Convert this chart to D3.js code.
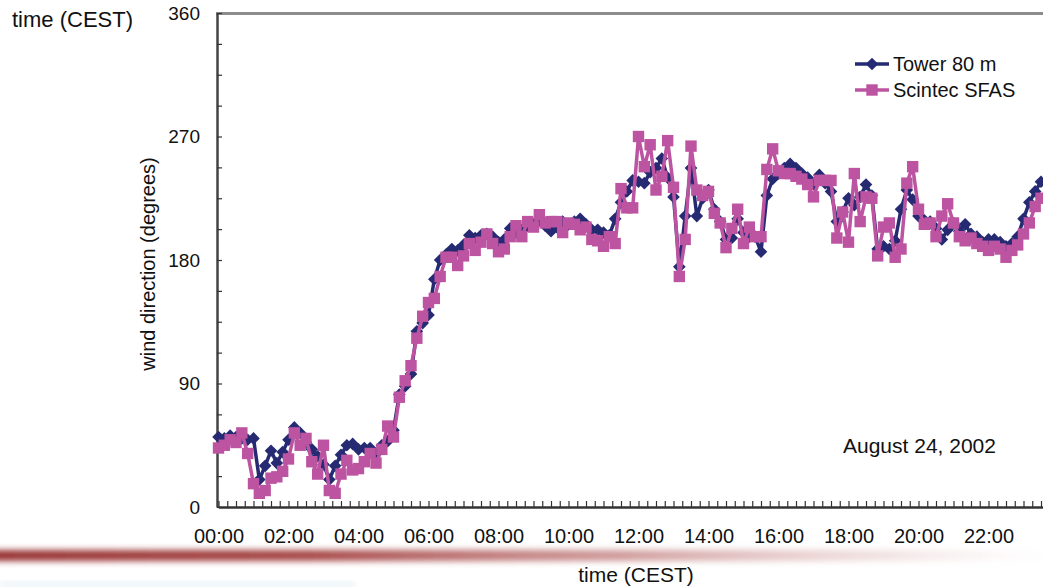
<!DOCTYPE html>
<html lang="en">
<head>
    <meta charset="UTF-8">
    <title>wind direction</title>
    <script src="https://cdn.jsdelivr.net/npm/d3@7"></script>
    <style>
        body{margin:0;background:#fff;}
        text{font-family:"Liberation Sans",Arial,sans-serif;fill:#111;}
    </style>
</head>
<body>
<svg width="1043" height="587"></svg>
</body>
<script>
// 10 minute values, 00:00 .. 23:30 (what is visible of the day)
var minutes = d3.range(0, 142 * 10, 10);

var tower = [
    51, 50, 52, 51, 50, 49, 50, 20, 30, 41,
    32, 40, 49, 58, 54, 47, 42, 37, 31, 20,
    30, 38, 45, 46, 42, 43, 43, 39, 45, 48,
    56, 82, 88, 97, 128, 134, 140, 166, 180, 184,
    188, 187, 191, 198, 196, 198, 199, 197, 193, 195,
    203, 200, 202, 205, 206, 209, 205, 201, 204, 208,
    206, 208, 210, 206, 202, 202, 200, 198, 210, 222,
    230, 238, 237, 236, 244, 247, 254, 240, 226, 175,
    212, 247, 212, 225, 231, 217, 208, 195, 196, 210,
    200, 197, 197, 186, 227, 239, 243, 247, 250, 247,
    243, 240, 235, 242, 236, 230, 208, 215, 225, 220,
    226, 235, 227, 188, 190, 188, 194, 217, 231, 224,
    212, 209, 208, 203, 195, 202, 207, 201, 206, 199,
    197, 193, 195, 195, 193, 190, 192, 197, 210, 222,
    230, 237
];

var scintec = [
    43, 45, 49, 47, 54, 39, 17, 10, 12, 21,
    22, 26, 35, 54, 45, 50, 33, 24, 45, 12,
    10, 24, 34, 27, 28, 33, 39, 32, 42, 59,
    51, 80, 92, 103, 123, 139, 149, 152, 168, 182,
    182, 176, 183, 192, 187, 193, 199, 192, 186, 188,
    197, 205, 197, 208, 204, 213, 207, 208, 208, 200,
    207, 206, 202, 204, 195, 194, 190, 197, 192, 232,
    218, 218, 270, 248, 264, 231, 241, 267, 233, 168,
    195, 263, 231, 227, 230, 214, 207, 189, 203, 217,
    192, 204, 197, 197, 246, 261, 245, 243, 243, 241,
    239, 235, 226, 238, 238, 238, 196, 215, 193, 243,
    208, 226, 225, 183, 204, 207, 182, 188, 236, 248,
    217, 206, 207, 197, 212, 221, 207, 197, 194, 196,
    192, 190, 187, 190, 188, 182, 187, 191, 199, 207,
    219, 225
];

var hourLabels = ['00:00','02:00','04:00','06:00','08:00','10:00','12:00','14:00','16:00','18:00','20:00','22:00'];
var degreeTicks = [0, 90, 180, 270, 360];
var seriesNames = ['Tower 80 m', 'Scintec SFAS'];

var navy = '#262a72', pink = '#bd54a1';

var svg = d3.select('svg');

// decoration under the chart (slide background)
var defs = svg.append('defs');
var grad = defs.append('linearGradient').attr('id', 'band');
grad.append('stop').attr('offset', '0%').attr('stop-color', '#973232');
grad.append('stop').attr('offset', '30%').attr('stop-color', '#a64545');
grad.append('stop').attr('offset', '60%').attr('stop-color', '#c07a7a').attr('stop-opacity', 0.75);
grad.append('stop').attr('offset', '85%').attr('stop-color', '#dcb0b0').attr('stop-opacity', 0.35);
grad.append('stop').attr('offset', '100%').attr('stop-color', '#f4e4e4').attr('stop-opacity', 0.05);
defs.append('filter').attr('id', 'soft')
    .attr('x', '-5%').attr('y', '-100%').attr('width', '110%').attr('height', '300%')
    .append('feGaussianBlur').attr('stdDeviation', 3);
svg.append('rect')
    .attr('x', -10).attr('y', 550).attr('width', 1060).attr('height', 11)
    .attr('fill', 'url(#band)').attr('filter', 'url(#soft)');
svg.append('rect')
    .attr('x', 0).attr('y', 583).attr('width', 355).attr('height', 3)
    .attr('fill', '#d9e8f3').attr('filter', 'url(#soft)');

var xScale = d3.scaleLinear()
    .domain([0, 24 * 60])
    .range([218.5, 218.5 + 840]);
var yScale = d3.scaleLinear()
    .domain([0, 360])
    .range([507, 13]);

// top frame line
svg.append('line')
    .attr('x1', 216).attr('x2', 1043)
    .attr('y1', 13.5).attr('y2', 13.5)
    .attr('stroke', '#8c8c8c').attr('stroke-width', 3);

// y axis
var yAxis = d3.axisLeft(yScale)
    .tickValues(d3.range(0, 361, 22.5))
    .tickSizeInner(-5)
    .tickSizeOuter(0)
    .tickPadding(17)
    .tickFormat(d => degreeTicks.indexOf(d) >= 0 ? d : '');
var gy = svg.append('g')
    .attr('transform', 'translate(217,0)')
    .call(yAxis);
gy.select('.domain').attr('stroke', '#444').attr('stroke-width', 2.5);
gy.selectAll('.tick line').attr('stroke', '#333').attr('stroke-width', 1.2);
gy.selectAll('.tick text').attr('font-size', 19).attr('fill', '#111');

// x axis: small ticks every 15 min, labels every 2 h
var xAxis = d3.axisBottom(xScale)
    .tickValues(d3.range(0, 24 * 60 + 1, 15))
    .tickSizeInner(-6)
    .tickSizeOuter(0)
    .tickFormat('');
var gx = svg.append('g')
    .attr('transform', 'translate(0,507)')
    .call(xAxis);
gx.select('.domain').attr('stroke', '#333').attr('stroke-width', 2.5);
gx.selectAll('.tick line').attr('stroke', '#333').attr('stroke-width', 1.2);

var xLabAxis = d3.axisBottom(xScale)
    .tickValues(hourLabels.map((d, i) => i * 120))
    .tickSize(0)
    .tickPadding(22)
    .tickFormat((d, i) => hourLabels[i]);
var gxl = svg.append('g')
    .attr('transform', 'translate(0,507)')
    .call(xLabAxis);
gxl.select('.domain').remove();
gxl.selectAll('text').attr('font-size', 20).attr('fill', '#111');

// series
var line = d3.line()
    .x((d, i) => xScale(minutes[i]))
    .y(d => yScale(d));

var diamond = d3.symbol().type(d3.symbolSquare).size(80);
var square = d3.symbol().type(d3.symbolSquare).size(130);

function drawSeries(values, color, isDiamond) {
    svg.append('path')
        .datum(values)
        .attr('fill', 'none')
        .attr('stroke', color)
        .attr('stroke-width', 3.5)
        .attr('stroke-linejoin', 'round')
        .attr('d', line);
    svg.append('g')
        .selectAll('path')
        .data(values)
        .join('path')
        .attr('d', isDiamond ? diamond : square)
        .attr('fill', color)
        .attr('transform', (d, i) => 'translate(' + xScale(minutes[i]) + ',' + yScale(d) + ')' + (isDiamond ? ' rotate(45)' : ''));
}
drawSeries(tower, navy, true);
drawSeries(scintec, pink, false);

// legend
var legend = svg.append('g').attr('transform', 'translate(855,64)');
[[navy, true], [pink, false]].forEach(function (s, i) {
    var g = legend.append('g').attr('transform', 'translate(0,' + i * 26 + ')');
    g.append('line').attr('x1', 0).attr('x2', 34).attr('stroke', s[0]).attr('stroke-width', 3.5);
    g.append('path')
        .attr('d', s[1] ? diamond : square)
        .attr('fill', s[0])
        .attr('transform', 'translate(17,0)' + (s[1] ? ' rotate(45)' : ''));
    g.append('text').attr('x', 38).attr('y', 7).attr('font-size', 20).text(seriesNames[i]);
});

svg.append('text')
    .attr('x', 843).attr('y', 453)
    .attr('font-size', 21)
    .text('August 24, 2002');

// titles
svg.append('text')
    .attr('transform', 'translate(155,264) rotate(-90)')
    .attr('text-anchor', 'middle')
    .attr('font-size', 20)
    .text('wind direction (degrees)');
svg.append('text')
    .attr('x', 636).attr('y', 582)
    .attr('text-anchor', 'middle')
    .attr('font-size', 21)
    .text('time (CEST)');
svg.append('text')
    .attr('x', 12).attr('y', 27)
    .attr('font-size', 22)
    .text('time (CEST)');
</script>
</html>
